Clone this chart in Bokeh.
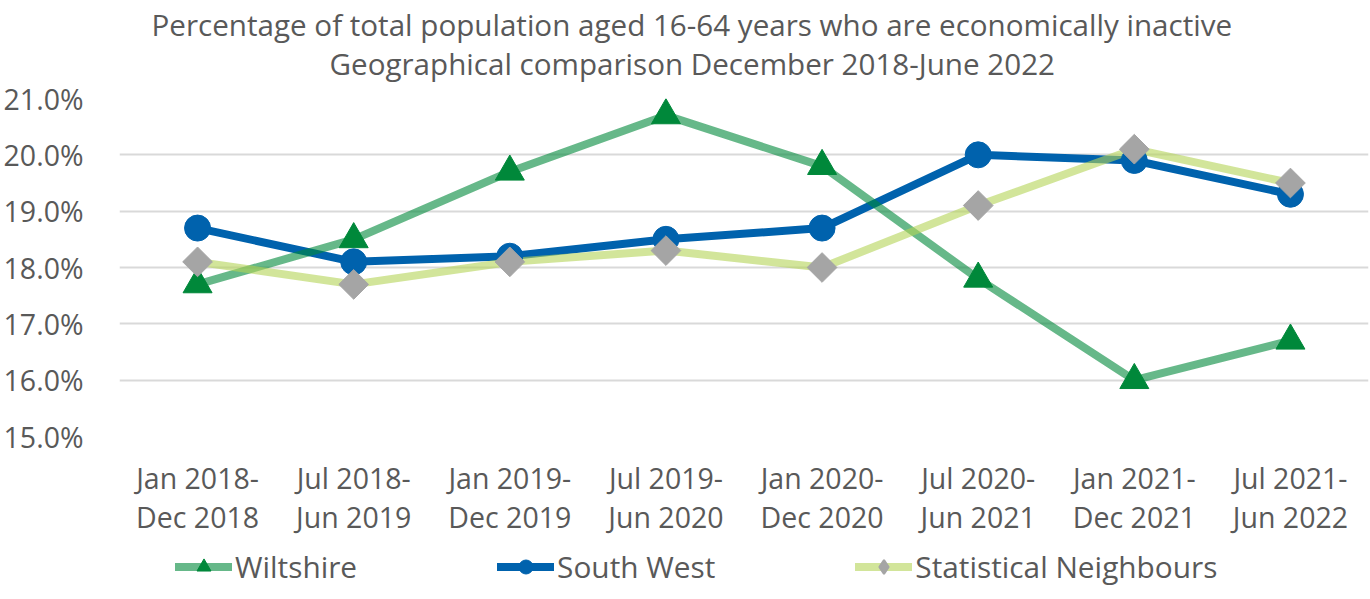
import numpy as np
from bokeh.plotting import figure
from bokeh.layouts import column
from bokeh.models import (FactorRange, Range1d, CategoricalAxis, PrintfTickFormatter,
                          Legend, LegendItem, Title, FixedTicker)
from bokeh.embed import file_html
from bokeh.resources import INLINE

categories_line1 = ["Jan 2018-", "Jul 2018-", "Jan 2019-", "Jul 2019-",
                    "Jan 2020-", "Jul 2020-", "Jan 2021-", "Jul 2021-"]
categories_line2 = ["Dec 2018", "Jun 2019", "Dec 2019", "Jun 2020",
                    "Dec 2020", "Jun 2021", "Dec 2021", "Jun 2022"]
wiltshire = [17.7, 18.5, 19.7, 20.7, 19.8, 17.8, 16.0, 16.7]
south_west = [18.7, 18.1, 18.2, 18.5, 18.7, 20.0, 19.9, 19.3]
stat_neighbours = [18.1, 17.7, 18.1, 18.3, 18.0, 19.1, 20.1, 19.5]
y_ticks = [15, 16, 17, 18, 19, 20, 21]
series_names = ["Wiltshire", "South West", "Statistical Neighbours"]
title_line1 = "Percentage of total population aged 16-64 years who are economically inactive"
title_line2 = "Geographical comparison December 2018-June 2022"

FONT = "Open Sans"
TXT = "#595959"
FS = "28.5px"

line_styles = {
    "Wiltshire": dict(line_color="#00883a", line_alpha=0.6),
    "South West": dict(line_color="#0062ad", line_alpha=1.0),
    "Statistical Neighbours": dict(line_color="#b4d457", line_alpha=0.6),
}
marker_styles = {
    "Wiltshire": dict(marker="triangle", size=29, fill_color="#00883a", line_color="#00883a",
                      line_width=1),
    "South West": dict(marker="circle", size=26, fill_color="#0062ad", line_color="#0062ad",
                       line_width=1),
    "Statistical Neighbours": dict(marker="square", size=21, angle=np.pi / 4,
                                   fill_color="#a5a5a5", line_color="#a5a5a5", line_width=1),
}
legend_marker_styles = dict(marker_styles)
legend_marker_styles["Statistical Neighbours"] = dict(marker="diamond", size=21,
                                                      fill_color="#a5a5a5",
                                                      line_color="#a5a5a5", line_width=2)
values = {"Wiltshire": wiltshire, "South West": south_west,
          "Statistical Neighbours": stat_neighbours}

x_range = FactorRange(factors=categories_line1, range_padding=0, factor_padding=0)

p = figure(width=1370, height=545, x_range=x_range, y_range=Range1d(15, 21),
           output_backend="svg", toolbar_location=None,
           min_border_left=117, min_border_right=2, min_border_top=98, min_border_bottom=109,
           x_axis_location=None)
p.extra_x_ranges = {"line2": FactorRange(factors=categories_line2, range_padding=0, factor_padding=0)}
p.outline_line_color = None
p.title.visible = False

# titles
t2 = Title(text=title_line2, align="left", offset=210, text_font=FONT, text_font_size="29.6px",
           text_color=TXT, text_font_style="normal", standoff=29)
p.add_layout(t2, "above")
t1 = Title(text=title_line1, align="left", offset=32, text_font=FONT, text_font_size="29.6px",
           text_color=TXT, text_font_style="normal", standoff=-36)
p.add_layout(t1, "above")

# y axis
p.yaxis.ticker = FixedTicker(ticks=y_ticks)
p.yaxis.formatter = PrintfTickFormatter(format="%.1f%%")
p.yaxis.axis_line_color = None
p.yaxis.major_tick_line_color = None
p.yaxis.minor_tick_line_color = None
p.yaxis.major_label_text_font = FONT
p.yaxis.major_label_text_font_size = FS
p.yaxis.major_label_text_color = TXT
p.yaxis.major_label_standoff = 30

p.ygrid.ticker = FixedTicker(ticks=y_ticks)
p.ygrid.grid_line_color = "#d9d9d9"
p.ygrid.grid_line_width = 2
p.xgrid.grid_line_color = None

# x axes (two lines of labels)
ax1 = CategoricalAxis(axis_line_color=None, major_tick_line_color=None,
                      minor_tick_line_color=None, major_label_text_font=FONT,
                      major_label_text_font_size=FS, major_label_text_color=TXT,
                      major_label_standoff=16)
p.add_layout(ax1, "below")
ax2 = CategoricalAxis(x_range_name="line2", axis_line_color=None, major_tick_line_color=None,
                      minor_tick_line_color=None, major_label_text_font=FONT,
                      major_label_text_font_size=FS, major_label_text_color=TXT,
                      major_label_standoff=-8)
p.add_layout(ax2, "below")

draw_order_lines = ["South West", "Wiltshire", "Statistical Neighbours"]
for name in draw_order_lines:
    p.line(categories_line1, values[name], line_width=8, line_cap="round", line_join="round",
           **line_styles[name])
for name in series_names:
    p.scatter(categories_line1, values[name], **marker_styles[name])

# legend strip (separate figure below, same series drawn outside its view)
pl = figure(width=1370, height=54, x_range=x_range, y_range=Range1d(0, 1),
            output_backend="svg", toolbar_location=None,
            min_border_left=0, min_border_right=0, min_border_top=0, min_border_bottom=0,
            x_axis_location=None, y_axis_location=None)
pl.outline_line_color = None
pl.grid.grid_line_color = None
items = []
for name in series_names:
    rl = pl.line(categories_line1, values[name], line_width=8, line_cap="round",
                 line_join="round", **line_styles[name])
    rm = pl.scatter(categories_line1, values[name], **legend_marker_styles[name])
    items.append(LegendItem(label=name, renderers=[rl, rm]))

legend = Legend(items=items, orientation="horizontal", location=(56, 12),
                glyph_width=57, glyph_height=35, label_standoff=3, spacing=140,
                padding=0, margin=0, border_line_color=None, background_fill_alpha=0,
                label_text_font=FONT, label_text_font_size="29.8px", label_text_color=TXT)
pl.add_layout(legend, "center")

layout = column(p, pl, spacing=0)
open("out.html", "w").write(file_html(layout, INLINE))
